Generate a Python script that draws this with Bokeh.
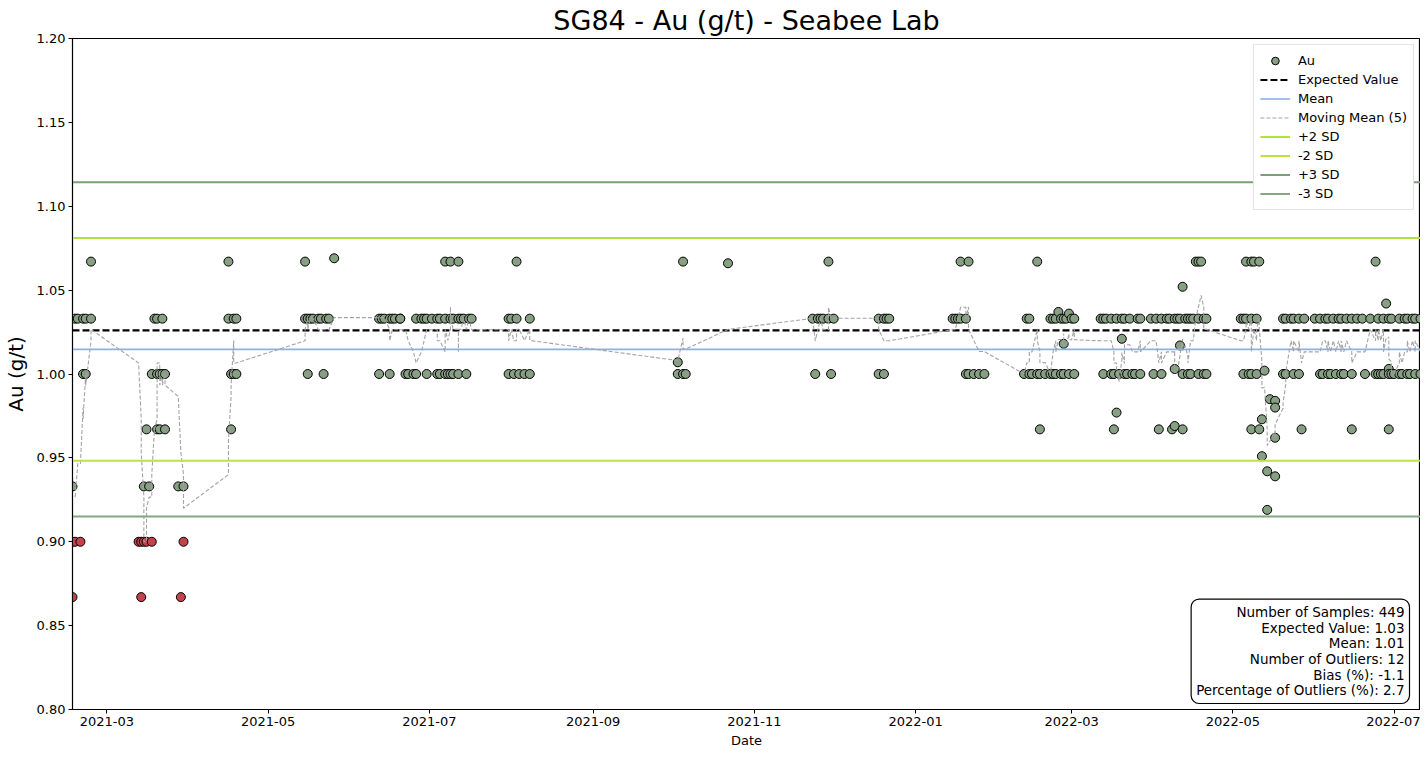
import pandas as pd
from bokeh.plotting import figure
from bokeh.models import (Range1d, FixedTicker, NumeralTickFormatter, DatetimeTickFormatter, Label)
from bokeh.embed import file_html
from bokeh.resources import INLINE

# ---------------- data ----------------
sample_days = [
    "2021-02-16", "2021-02-17", "2021-02-18", "2021-02-19", "2021-02-20", "2021-02-21", "2021-02-23",
    "2021-03-13", "2021-03-14", "2021-03-15", "2021-03-16", "2021-03-17", "2021-03-18", "2021-03-19",
    "2021-03-20", "2021-03-21", "2021-03-22", "2021-03-23", "2021-03-28", "2021-03-29", "2021-03-30",
    "2021-04-16", "2021-04-17", "2021-04-18", "2021-04-19",
    "2021-05-15", "2021-05-16", "2021-05-17", "2021-05-18", "2021-05-20", "2021-05-21", "2021-05-22",
    "2021-05-23", "2021-05-24", "2021-05-26",
    "2021-06-12", "2021-06-13", "2021-06-14", "2021-06-16", "2021-06-17", "2021-06-18", "2021-06-20",
    "2021-06-22", "2021-06-23", "2021-06-25", "2021-06-26", "2021-06-28", "2021-06-29", "2021-06-30",
    "2021-07-02", "2021-07-04", "2021-07-05", "2021-07-07", "2021-07-08", "2021-07-09", "2021-07-10",
    "2021-07-12", "2021-07-13", "2021-07-14", "2021-07-15", "2021-07-16", "2021-07-17",
    "2021-07-31", "2021-08-01", "2021-08-02", "2021-08-03", "2021-08-04", "2021-08-06", "2021-08-08",
    "2021-10-03", "2021-10-05", "2021-10-06", "2021-10-22",
    "2021-11-23", "2021-11-24", "2021-11-25", "2021-11-26", "2021-11-27", "2021-11-29", "2021-11-30",
    "2021-12-01", "2021-12-18", "2021-12-20", "2021-12-21", "2021-12-22",
    "2022-01-15", "2022-01-16", "2022-01-17", "2022-01-18", "2022-01-20", "2022-01-21", "2022-01-23",
    "2022-01-25", "2022-01-27",
    "2022-02-11", "2022-02-12", "2022-02-13", "2022-02-14", "2022-02-16", "2022-02-17", "2022-02-19",
    "2022-02-21", "2022-02-22", "2022-02-23", "2022-02-24", "2022-02-25", "2022-02-26", "2022-02-27",
    "2022-02-28", "2022-03-01", "2022-03-02",
    "2022-03-12", "2022-03-13", "2022-03-14", "2022-03-16", "2022-03-17", "2022-03-18", "2022-03-19",
    "2022-03-20", "2022-03-21", "2022-03-22", "2022-03-23", "2022-03-24", "2022-03-25", "2022-03-26",
    "2022-03-27", "2022-03-31",
    "2022-04-01", "2022-04-02", "2022-04-03", "2022-04-04", "2022-04-06", "2022-04-07", "2022-04-08",
    "2022-04-09", "2022-04-10", "2022-04-11", "2022-04-12", "2022-04-13", "2022-04-14", "2022-04-15",
    "2022-04-16", "2022-04-17", "2022-04-18", "2022-04-19", "2022-04-20", "2022-04-21",
    "2022-05-04", "2022-05-05", "2022-05-06", "2022-05-07", "2022-05-08", "2022-05-09", "2022-05-10",
    "2022-05-11", "2022-05-12", "2022-05-13", "2022-05-14", "2022-05-15", "2022-05-17", "2022-05-20",
    "2022-05-21", "2022-05-23", "2022-05-24", "2022-05-26", "2022-05-27", "2022-05-28",
    "2022-06-01", "2022-06-03", "2022-06-04", "2022-06-05", "2022-06-06", "2022-06-07", "2022-06-08",
    "2022-06-09", "2022-06-10", "2022-06-11", "2022-06-12", "2022-06-13", "2022-06-15", "2022-06-17",
    "2022-06-19", "2022-06-20", "2022-06-22", "2022-06-24", "2022-06-25", "2022-06-26", "2022-06-27",
    "2022-06-28", "2022-06-29", "2022-06-30",
    "2022-07-01", "2022-07-03", "2022-07-04", "2022-07-05", "2022-07-06", "2022-07-07", "2022-07-08",
    "2022-07-09", "2022-07-11",
]

au_by_day = [
    [0.933, 0.900, 0.867], [1.033, 0.900], [1.033], [0.900], [1.033, 1.000], [1.033, 1.000], [1.033, 1.067],
    [0.900], [0.867, 0.900], [0.900, 0.933], [0.900, 0.967], [0.933], [0.900, 1.000], [1.033],
    [1.000, 1.033, 0.967], [1.000, 0.967], [1.033, 1.000], [1.000, 0.967], [0.933], [0.867], [0.933, 0.900],
    [1.067, 1.033], [1.000, 0.967], [1.033, 1.000], [1.033, 1.000],
    [1.033, 1.067], [1.033, 1.000], [1.033], [1.033], [1.033], [1.033], [1.000],
    [1.033], [1.033], [1.069],
    [1.033, 1.000], [1.033], [1.033], [1.033, 1.000], [1.033], [1.033], [1.033, 1.033],
    [1.000], [1.000], [1.000], [1.000, 1.033], [1.033], [1.033], [1.033, 1.000],
    [1.033], [1.033, 1.000], [1.033, 1.000], [1.000, 1.033, 1.067], [1.000], [1.033, 1.067, 1.000], [1.033, 1.000],
    [1.033, 1.000, 1.067], [1.033], [1.033], [1.000], [1.033], [1.033],
    [1.033, 1.000], [1.033], [1.000], [1.033, 1.067], [1.000], [1.000], [1.033, 1.000],
    [1.007, 1.000], [1.067, 1.000], [1.000], [1.066],
    [1.033], [1.000], [1.033], [1.033], [1.033], [1.033, 1.067], [1.000],
    [1.033], [1.033, 1.000], [1.033, 1.000], [1.033], [1.033],
    [1.033], [1.033], [1.033], [1.067, 1.033], [1.033, 1.000], [1.067, 1.000], [1.000],
    [1.000], [1.000],
    [1.000], [1.033], [1.000, 1.033], [1.000], [1.067, 1.000], [0.967, 1.000], [1.000],
    [1.033, 1.000], [1.033, 1.000], [1.033, 1.000], [1.037], [1.033, 1.000], [1.018, 1.033, 1.000], [1.033],
    [1.036, 1.000], [1.033], [1.033, 1.000],
    [1.033], [1.000, 1.033], [1.033], [1.000, 1.033], [0.967, 1.000], [1.033, 0.977], [1.000],
    [1.033, 1.021], [1.000, 1.033], [1.000], [1.033], [1.000], [1.000], [1.033],
    [1.033, 1.000], [1.033],
    [1.000], [1.033], [0.967], [1.033, 1.000], [1.033], [1.033], [0.967],
    [1.033, 1.003, 0.969], [1.033], [1.017, 1.033], [1.052, 0.967, 1.000], [1.033], [1.000, 1.033], [1.033, 1.000],
    [1.033], [1.067], [1.067, 1.033, 1.000], [1.067], [1.033, 1.000], [1.033, 1.000],
    [1.033], [1.033, 1.000], [1.067, 1.033], [1.000], [1.067, 0.967, 1.033, 1.000], [1.067], [1.033, 1.000],
    [1.067, 0.967], [0.973, 0.951], [1.002], [0.942, 0.919], [0.985], [0.984, 0.980, 0.962, 0.939], [1.033, 1.000],
    [1.033, 1.000], [1.033], [1.000, 1.033], [1.000, 1.033], [0.967], [1.033],
    [1.033], [1.000, 1.033], [1.000], [1.033], [1.000, 1.033], [1.000], [1.033],
    [1.000], [1.033], [1.000, 1.033], [1.000], [1.033], [1.000, 0.967, 1.033], [1.033],
    [1.033], [1.000], [1.033], [1.000, 1.067], [1.000, 1.033], [1.000], [1.033, 1.000],
    [1.042], [1.033, 1.003, 0.967, 1.000], [1.033, 1.000],
    [1.000], [1.000, 1.033], [1.000], [1.033], [1.000, 1.033], [1.000], [1.033],
    [1.000, 1.033], [1.000, 1.033],
]

expected_value = 1.026
mean_value = 1.0147
sd_value = 0.0332
moving_window = 5

stats_labels = ["Number of Samples", "Expected Value", "Mean", "Number of Outliers",
                "Bias (%)", "Percentage of Outliers (%)"]
stats_values = ["449", "1.03", "1.01", "12", "-1.1", "2.7"]

x_tick_labels = ["2021-03", "2021-05", "2021-07", "2021-09", "2021-11",
                 "2022-01", "2022-03", "2022-05", "2022-07"]
y_ticks = [0.80, 0.85, 0.90, 0.95, 1.00, 1.05, 1.10, 1.15, 1.20]

# ---------------- table ----------------
rows = []
for d, vals in zip(sample_days, au_by_day):
    for v in vals:
        rows.append((pd.Timestamp(d), v))
df = pd.DataFrame(rows, columns=["date", "au"])
df["moving"] = df["au"].rolling(moving_window).mean()

lo3, hi3 = mean_value - 3 * sd_value, mean_value + 3 * sd_value
lo2, hi2 = mean_value - 2 * sd_value, mean_value + 2 * sd_value
out = (df["au"] < lo3) | (df["au"] > hi3)
good = df[~out]
bad = df[out]

xmin = df["date"].min()
xmax = df["date"].max()
FONT = "DejaVu Sans"

p = figure(frame_width=1348, frame_height=671, x_axis_type="datetime",
           x_range=Range1d(xmin, xmax), y_range=Range1d(0.80, 1.20),
           output_backend="svg", toolbar_location=None,
           min_border_left=64, min_border_right=0, min_border_top=36, min_border_bottom=33)

p.title.text = "SG84 - Au (g/t) - Seabee Lab"
p.title.align = "center"
p.title.text_font = FONT
p.title.text_font_size = "27px"
p.title.text_font_style = "normal"
p.title.text_color = "black"
p.title.standoff = 5
p.title.offset = 0

p.xgrid.visible = False
p.ygrid.visible = False
p.outline_line_color = "black"
p.outline_line_width = 1.2
p.background_fill_color = "white"

for ax in (p.xaxis[0], p.yaxis[0]):
    ax.axis_line_color = "black"
    ax.major_tick_line_color = "black"
    ax.major_tick_out = 4
    ax.major_tick_in = 0
    ax.minor_tick_line_color = None
    ax.major_label_text_font = FONT
    ax.major_label_text_font_size = "13px"
    ax.major_label_text_color = "black"
    ax.major_label_standoff = 3
    ax.axis_label_text_font = FONT
    ax.axis_label_text_font_style = "normal"
    ax.axis_label_text_color = "black"

p.xaxis.axis_label = "Date"
p.xaxis.axis_label_text_font_size = "13px"
p.xaxis.axis_label_standoff = 4
p.yaxis.axis_label = "Au (g/t)"
p.yaxis.axis_label_text_font_size = "20px"
p.yaxis.axis_label_standoff = 6

p.yaxis.ticker = FixedTicker(ticks=y_ticks)
p.yaxis.formatter = NumeralTickFormatter(format="0.00")
x_ticks_ms = [pd.Timestamp(t + "-01").value / 1e6 for t in x_tick_labels]
p.xaxis.ticker = FixedTicker(ticks=x_ticks_ms)
fmt = "%Y-%m"
p.xaxis.formatter = DatetimeTickFormatter(
    milliseconds=fmt, seconds=fmt, minsec=fmt, minutes=fmt, hourmin=fmt, hours=fmt,
    days=fmt, months=fmt, years=fmt)

# points
p.scatter(good["date"], good["au"], size=9, fill_color="#879f83", line_color="black",
          line_width=1, legend_label="Au")
p.scatter(bad["date"], bad["au"], size=9, fill_color="#c4424b", line_color="black",
          line_width=1)

xs = [xmin, xmax]
p.line(xs, [expected_value] * 2, line_color="black", line_width=2.2, line_dash="7 3",
       legend_label="Expected Value")
p.line(xs, [mean_value] * 2, line_color="#8fb0e6", line_width=1.6, legend_label="Mean")
p.line(df["date"], df["moving"], line_color="#a3a3a3", line_width=1.1, line_dash="4 2",
       legend_label="Moving Mean (5)")
p.line(xs, [hi2] * 2, line_color="#b2e03c", line_width=2, legend_label="+2 SD")
p.line(xs, [lo2] * 2, line_color="#bce33f", line_width=2, legend_label="-2 SD")
p.line(xs, [hi3] * 2, line_color="#7a9e76", line_width=2, legend_label="+3 SD")
p.line(xs, [lo3] * 2, line_color="#86a682", line_width=2, legend_label="-3 SD")

lg = p.legend[0]
lg.location = "top_right"
lg.margin = 6
lg.padding = 6
lg.spacing = 0
lg.label_height = 19
lg.glyph_height = 19
lg.glyph_width = 30
lg.label_standoff = 8
lg.label_text_font = FONT
lg.label_text_font_size = "13px"
lg.label_text_color = "black"
lg.border_line_color = "#c8c8c8"
lg.border_line_width = 1
lg.background_fill_alpha = 1.0

stats_text = "\n".join(f"{k}: {v}" for k, v in zip(stats_labels, stats_values))
p.add_layout(Label(x=xmax.value / 1e6, y=0.80, x_offset=-11, y_offset=6,
                   text=stats_text, text_align="right", text_baseline="bottom",
                   text_font=FONT, text_font_size="13.5px", text_line_height=0.98,
                   text_color="black",
                   background_fill_color="white", border_line_color="black",
                   border_line_width=1.2, border_radius=8, padding=5))

open("out.html", "w").write(file_html(p, INLINE))
